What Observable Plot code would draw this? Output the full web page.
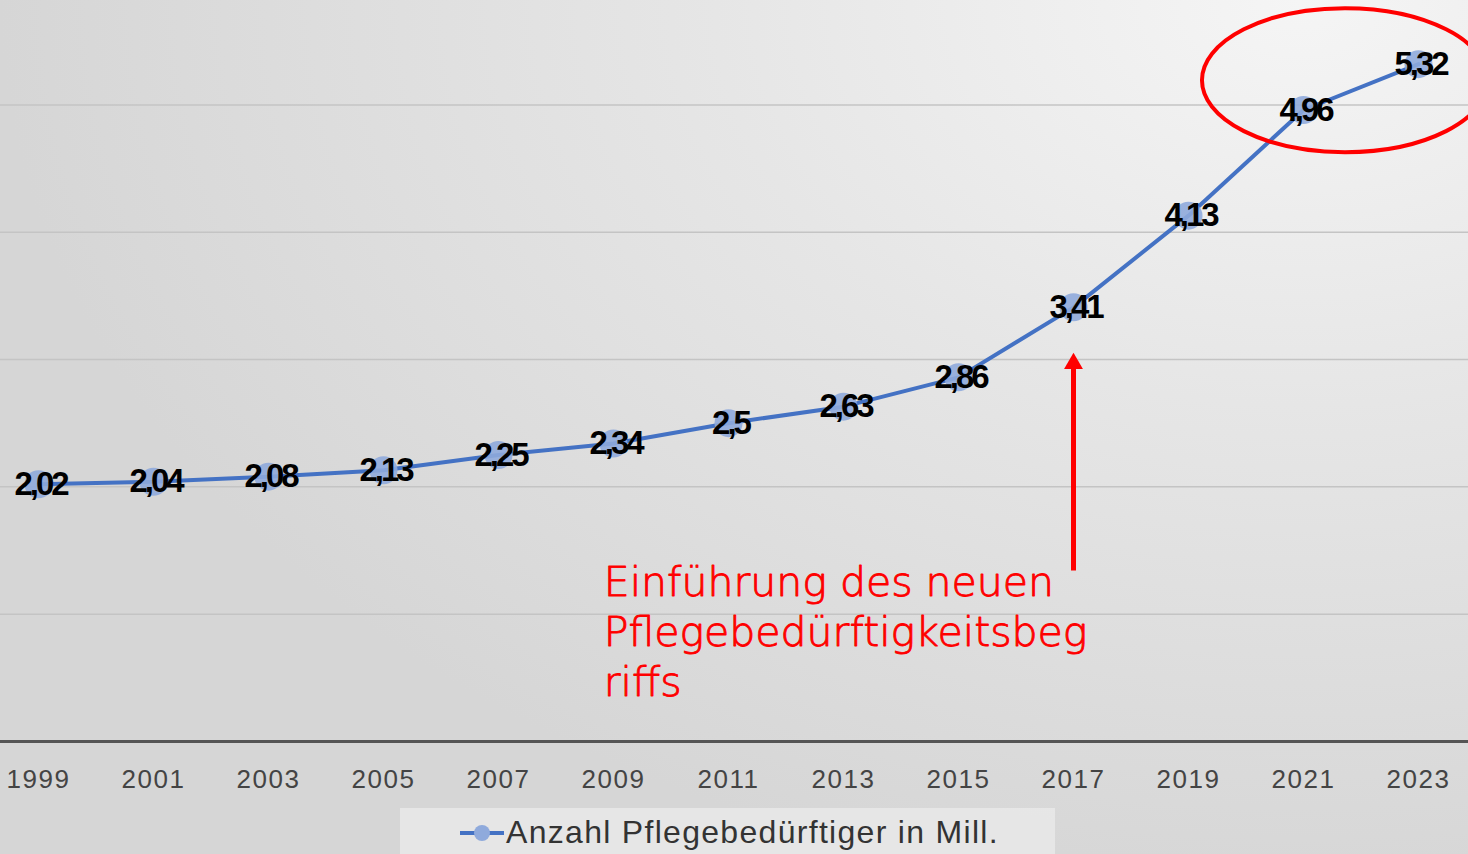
<!DOCTYPE html>
<html><head><meta charset="utf-8">
<script src="https://cdn.jsdelivr.net/npm/d3@7"></script>
<script src="https://cdn.jsdelivr.net/npm/@observablehq/plot@0.6"></script>
<style>
html,body{margin:0;padding:0;}
body{width:1468px;height:854px;overflow:hidden;
 background: radial-gradient(ellipse 1300px 900px at 1300px 0px, #f5f5f5 0%, #e6e6e6 45%, #d6d6d6 100%);}
#chart svg{display:block;background:transparent;}
#legend{position:absolute;left:400px;top:808px;width:655px;height:46px;background:rgba(240,240,240,0.6);
 font-family:"Liberation Sans",Arial,sans-serif;font-size:32px;color:#333;letter-spacing:1.3px;}
#legend .item{position:absolute;left:58px;top:6px;display:flex;align-items:center;}
</style></head>
<body>
<div id="chart"></div>
<div id="legend"><div class="item"><svg width="48" height="36"><line x1="2" y1="18" x2="46" y2="18" stroke="#4472c4" stroke-width="4"/><circle cx="24" cy="18" r="8" fill="#8faadc"/></svg><span>Anzahl Pflegebedürftiger in Mill.</span></div></div>
<script>
const years = [1999, 2001, 2003, 2005, 2007, 2009, 2011, 2013, 2015, 2017, 2019, 2021, 2023];
const values = [2.02, 2.04, 2.08, 2.13, 2.25, 2.34, 2.5, 2.63, 2.86, 3.41, 4.13, 4.96, 5.32];
const labels = ["2,02", "2,04", "2,08", "2,13", "2,25", "2,34", "2,5", "2,63", "2,86", "3,41", "4,13", "4,96", "5,32"];
const gridValues = [1, 2, 3, 4, 5];
const annotationText = "Einführung des neuen\nPflegebedürftigkeitsbeg\nriffs";
const annotationPos = {x: 2008.83, y: 1.42};
const arrowPos = {x: 2017, y1: 1.34, y2: 3.0};
const ellipsePos = {x: 2021.73, y: 5.19, rx: 143, ry: 72};

const data = years.map((y, i) => ({year: y, value: values[i], label: labels[i]}));

const plot = Plot.plot({
  width: 1468, height: 806,
  marginLeft: 38, marginRight: 50, marginTop: 0, marginBottom: 65,
  style: {background: "transparent"},
  x: {domain: [1999, 2023], ticks: years, tickFormat: d => String(d), tickSize: 0, tickPadding: 28, label: null},
  y: {domain: [0, 5.82], axis: null},
  marks: [
    Plot.ruleY(gridValues, {stroke: "#c4c4c4", strokeWidth: 1.5, insetLeft: -38, insetRight: -50}),
    Plot.ruleY([0], {stroke: "#555", strokeWidth: 3, insetLeft: -38, insetRight: -50}),
    Plot.line(data, {x: "year", y: "value", stroke: "#4472c4", strokeWidth: 4}),
    Plot.dot(data, {x: "year", y: "value", r: 14, fill: "#8faadc", fillOpacity: 0.9}),
    Plot.text(data, {x: "year", y: "value", text: "label", fill: "#000", fontSize: 33, fontWeight: "bold",
      fontFamily: "Liberation Sans, Arial, sans-serif", dy: 0, dx: 2}),
    Plot.ruleX([arrowPos], {x: "x", y1: "y1", y2: d => d.y2 - 0.05, stroke: "#ff0000", strokeWidth: 5}),
    Plot.dot([arrowPos], {x: "x", y: "y2", symbol: "triangle", r: 7, fill: "#ff0000", dy: 4}),
    Plot.text([annotationPos], {x: "x", y: "y", text: () => annotationText, textAnchor: "start", lineAnchor: "top",
      fill: "#ff0000", stroke: "#ff0000", strokeWidth: 0.9, fontSize: 41, lineHeight: 1.22,
      fontFamily: "DejaVu Sans, sans-serif", fontWeight: 300})
  ]
});
d3.select(plot).selectAll("g[aria-label='x-axis tick label'] text, g[aria-label='x-axis tick label']")
  .attr("font-size", 26).attr("fill", "#444").attr("font-family", "Liberation Sans, Arial, sans-serif").style("letter-spacing", "1.5px");
d3.select(plot).selectAll("g[aria-label='text'] text").filter(function(){return this.getAttribute("font-weight")==="bold" || this.parentNode.getAttribute("font-weight")==="bold";})
  .style("letter-spacing", "-3px");
const xs = plot.scale("x"), ys = plot.scale("y");
d3.select(plot).append("ellipse")
  .attr("cx", xs.apply(ellipsePos.x)).attr("cy", ys.apply(ellipsePos.y))
  .attr("rx", ellipsePos.rx).attr("ry", ellipsePos.ry)
  .attr("fill", "none").attr("stroke", "#ff0000").attr("stroke-width", 4);
document.getElementById("chart").appendChild(plot);
</script>
</body></html>
